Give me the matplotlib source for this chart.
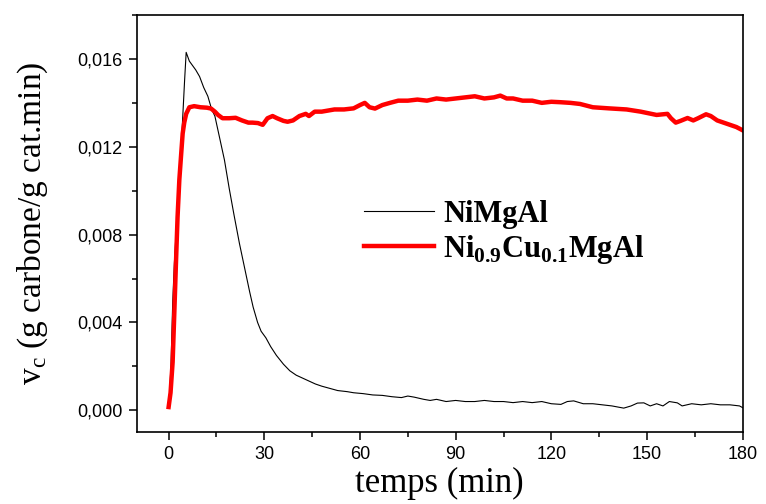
import matplotlib
matplotlib.use("Agg")
import matplotlib.pyplot as plt
from matplotlib.ticker import MultipleLocator, FuncFormatter

plt.rcParams['mathtext.fontset'] = 'custom'
plt.rcParams['mathtext.rm'] = 'Liberation Serif'
plt.rcParams['mathtext.bf'] = 'Liberation Serif:bold'

# NiMgAl (black)
t_ni = [0, 0.4, 0.75, 1.3, 1.8, 2.5, 3.4, 4.3, 5.0, 5.5, 6.5, 7.5, 8.5, 9.7, 11, 12.3,
        13.5, 14.5, 16, 17.5, 19, 20.5, 22.2, 23.8, 25.4, 26.5, 27.9, 29, 30.5, 32,
        33.8, 36, 38, 40, 43, 46, 48, 50.5, 53, 56, 58, 61, 64, 67, 70, 73, 75, 77,
        80, 82, 84, 87, 90, 93, 96, 99, 102, 105, 108, 111, 114, 117, 120, 123, 125,
        127, 130, 133, 136, 139, 142.7, 145, 147, 149, 151, 153, 155, 157, 159.5,
        161, 164, 167, 170, 173, 176, 179, 180]
v_ni = [0.0002, 0.0010, 0.0021, 0.0050, 0.0067, 0.0085, 0.0105, 0.0130, 0.0150, 0.0163,
        0.0159, 0.0157, 0.0155, 0.0152, 0.0147, 0.0143, 0.0137, 0.0134, 0.0124, 0.0114,
        0.0101, 0.0089, 0.0076, 0.0065, 0.0054, 0.0047, 0.0040, 0.0036, 0.0033, 0.0029,
        0.0025, 0.0021, 0.0018, 0.0016, 0.0014, 0.0012, 0.0011, 0.0010, 0.0009, 0.00085,
        0.0008, 0.00076, 0.0007, 0.00068, 0.00062, 0.00058, 0.00065, 0.0006, 0.0005,
        0.00045, 0.0005, 0.0004, 0.00045, 0.0004, 0.0004, 0.00045, 0.0004, 0.0004,
        0.00035, 0.0004, 0.00035, 0.0004, 0.0003, 0.00027, 0.0004, 0.00043, 0.0003,
        0.0003, 0.00025, 0.0002, 0.0001, 0.0002, 0.00033, 0.00034, 0.0002, 0.0003,
        0.0002, 0.0004, 0.00034, 0.0002, 0.0003, 0.00025, 0.0003, 0.00025, 0.00025,
        0.0002, 0.00012]

# Ni0.9Cu0.1MgAl (red)
t_cu = [0, 0.6, 1.26, 1.8, 2.3, 2.8, 3.36, 3.9, 4.4, 4.9, 5.5, 6.5, 8, 10, 12, 13.3,
        14.5, 15.5, 16.9, 19, 21, 23, 25, 26.3, 28, 29.5, 31, 32.6, 34, 36, 37.3, 39,
        41, 43, 44, 45.8, 48, 50, 52, 55, 58, 60, 61.5, 63, 64.7, 67, 69.4, 72, 75, 78,
        81, 84, 87, 90, 93, 96, 99, 102, 104, 106, 108, 111, 114, 117, 120, 122.8, 126,
        129, 133, 138, 143.6, 148, 153, 156.4, 157.5, 159, 160.5, 162.7, 164.5, 166,
        168.5, 170, 172, 174, 176, 178, 180]
v_cu = [0.00015, 0.0008, 0.0022, 0.0045, 0.0067, 0.0088, 0.0105, 0.0116, 0.0126, 0.0131,
        0.0135, 0.0138, 0.01385, 0.0138, 0.01378, 0.01374, 0.0136, 0.01345, 0.0133,
        0.0133, 0.01332, 0.0132, 0.0131, 0.0131, 0.01308, 0.0130, 0.0133, 0.0134, 0.0133,
        0.01318, 0.01314, 0.0132, 0.0134, 0.0135, 0.0134, 0.0136, 0.0136, 0.01365,
        0.0137, 0.0137, 0.01375, 0.0139, 0.0140, 0.0138, 0.01374, 0.0139, 0.0140, 0.0141,
        0.0141, 0.01415, 0.0141, 0.0142, 0.01415, 0.0142, 0.01425, 0.0143, 0.0142,
        0.01425, 0.01433, 0.0142, 0.0142, 0.0141, 0.0141, 0.0140, 0.01405, 0.01403,
        0.0140, 0.01395, 0.0138, 0.01375, 0.0137, 0.0136, 0.01345, 0.0135, 0.0133,
        0.0131, 0.01318, 0.01331, 0.0132, 0.0133, 0.01348, 0.0134, 0.0132, 0.0131,
        0.0130, 0.0129, 0.01275]

fig = plt.figure(figsize=(7.66, 5.04), dpi=100)
ax = fig.add_axes([0.1785, 0.1423, 0.9696 - 0.1785, 0.9702 - 0.1423])

ax.plot(t_ni, v_ni, color='black', linewidth=0.8, label='NiMgAl')
ax.plot(t_cu, v_cu, color='red', linewidth=3.2,
        label=r'Ni$_\mathbf{0.9}$Cu$_\mathbf{0.1}$MgAl')

ax.set_xlim(-10, 180)
ax.set_ylim(-0.001, 0.018)
ax.xaxis.set_major_locator(MultipleLocator(30))
ax.xaxis.set_minor_locator(MultipleLocator(15))
ax.yaxis.set_major_locator(MultipleLocator(0.004))
ax.yaxis.set_minor_locator(MultipleLocator(0.002))
ax.yaxis.set_major_formatter(FuncFormatter(lambda v, p: f'{v:.3f}'.replace('.', ',')))

ax.tick_params(which='major', direction='out', length=6, width=1.1, pad=4,
               labelsize=13, top=False, right=False)
ax.tick_params(which='minor', direction='out', length=3.5, width=1.1, top=False, right=False)
for lab in ax.get_xticklabels() + ax.get_yticklabels():
    lab.set_family('Liberation Sans')
for s in ax.spines.values():
    s.set_linewidth(1.2)

ax.set_xlabel('temps (min)', family='Liberation Serif', fontsize=25, labelpad=3)
ax.set_ylabel(r'v$_\mathregular{c}$ (g carbone/g cat.min)', family='Liberation Serif',
              fontsize=24, labelpad=20)

ax.legend(loc='center left', bbox_to_anchor=(0.375, 0.478), frameon=False,
          prop=dict(family='Liberation Serif', weight='bold', size=22),
          handlelength=2.3, handletextpad=0.3, labelspacing=0.12,
          borderpad=0, borderaxespad=0)

fig.savefig('out.png', dpi=100)
